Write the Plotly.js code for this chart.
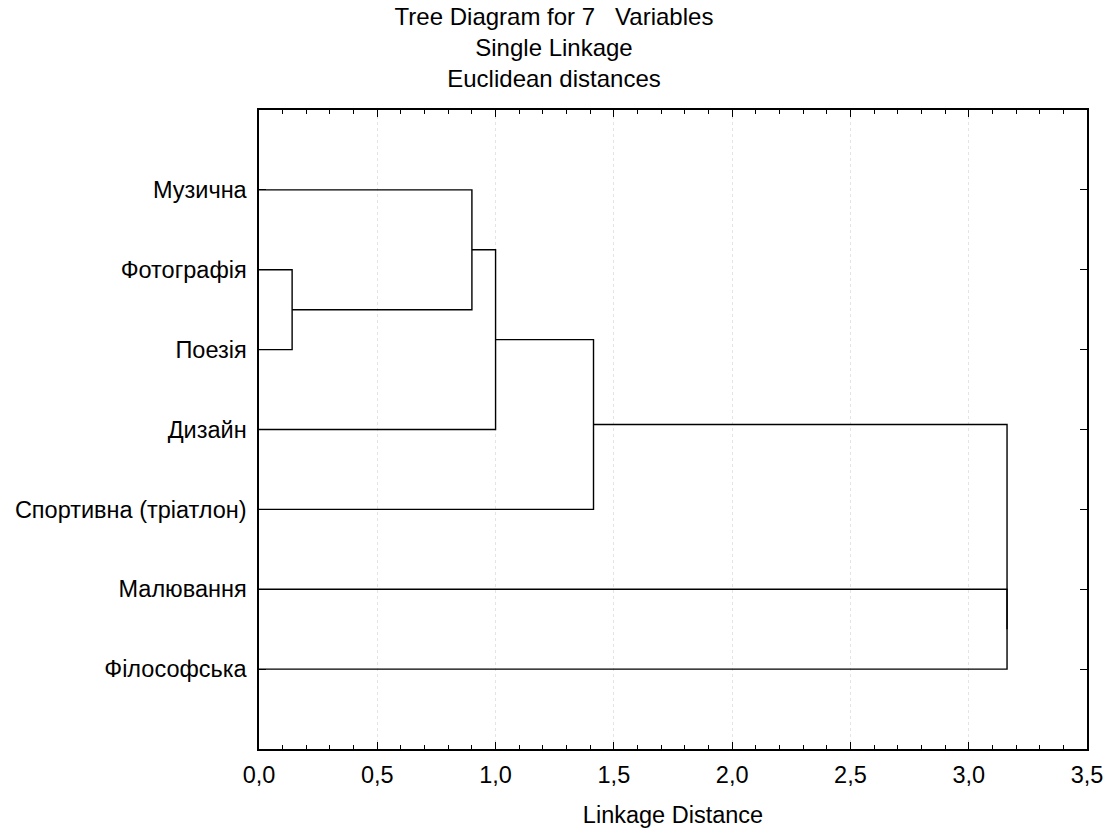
<!DOCTYPE html>
<html>
<head>
<meta charset="utf-8">
<script src="https://cdn.plot.ly/plotly-3.0.1.min.js"></script>
<style>
  html, body { margin: 0; padding: 0; background: #ffffff; }
  #chart { width: 1108px; height: 831px; }
</style>
</head>
<body>
<div id="chart"></div>
<script>
// Leaves, top to bottom
const labels = ['Музична', 'Фотографія', 'Поезія', 'Дизайн', 'Спортивна (тріатлон)', 'Малювання', 'Філософська'];
// Linkage: node ids 0..6 are leaves, merge k creates node 7+k
const mergeA = [1, 0, 8, 9, 5, 10];
const mergeB = [2, 7, 3, 4, 6, 11];
const mergeDist = [0.14, 0.90, 1.00, 1.414, 3.162, 3.162];
const xTickVals = [0, 0.5, 1, 1.5, 2, 2.5, 3, 3.5];

const pos = labels.map((_, i) => i + 1);
const height = labels.map(() => 0);
const xs = [], ys = [];
for (let k = 0; k < mergeA.length; k++) {
  const a = mergeA[k], b = mergeB[k], d = mergeDist[k];
  xs.push(height[a], d, d, height[b], null);
  ys.push(pos[a], pos[a], pos[b], pos[b], null);
  pos.push((pos[a] + pos[b]) / 2);
  height.push(d);
}

const trace = {
  type: 'scatter', mode: 'lines', x: xs, y: ys,
  line: { color: '#000000', width: 1.4 },
  hoverinfo: 'skip', showlegend: false, connectgaps: false
};

const font = { family: 'Liberation Sans, Arial, sans-serif', color: '#000000' };
const FS = 23.5;

const layout = {
  width: 1108, height: 831,
  paper_bgcolor: '#ffffff', plot_bgcolor: '#ffffff',
  separators: ', ',
  margin: { l: 259, r: 21, t: 110, b: 82, pad: 0 },
  font: Object.assign({ size: FS }, font),
  title: {
    text: 'Tree Diagram for 7\u00a0\u00a0\u00a0Variables<br>Single Linkage<br>Euclidean distances',
    font: Object.assign({ size: 24 }, font),
    xref: 'container', x: 0.5, xanchor: 'center',
    yref: 'container', y: 1 - 25 / 831, yanchor: 'middle'
  },
  xaxis: {
    range: [0, 3.5], tickvals: xTickVals, tickformat: '.1f',
    ticks: 'inside', ticklen: 7, tickwidth: 1.2, tickcolor: '#000000',
    minor: { dtick: 0.1, ticks: 'inside', ticklen: 4, tickwidth: 1, tickcolor: '#000000', showgrid: false },
    mirror: 'ticks', showline: true, linecolor: '#000000', linewidth: 1.6,
    showgrid: true, gridcolor: '#e4e4e4', gridwidth: 1, griddash: 'dot',
    zeroline: false, automargin: false, fixedrange: true,
    tickfont: Object.assign({ size: FS }, font),
    ticklabelstandoff: 4,
    title: { text: 'Linkage Distance', font: Object.assign({ size: FS }, font), standoff: 20 }
  },
  yaxis: {
    range: [8, 0], tickvals: [1, 2, 3, 4, 5, 6, 7], ticktext: labels,
    ticks: 'inside', ticklen: 7, tickwidth: 1.2, tickcolor: '#000000',
    mirror: 'ticks', showline: true, linecolor: '#000000', linewidth: 1.6,
    showgrid: false, zeroline: false, automargin: false, fixedrange: true,
    tickfont: Object.assign({ size: FS }, font),
    ticklabelstandoff: 6
  }
};

Plotly.newPlot('chart', [trace], layout, { displayModeBar: false, staticPlot: true });
</script>
</body>
</html>
